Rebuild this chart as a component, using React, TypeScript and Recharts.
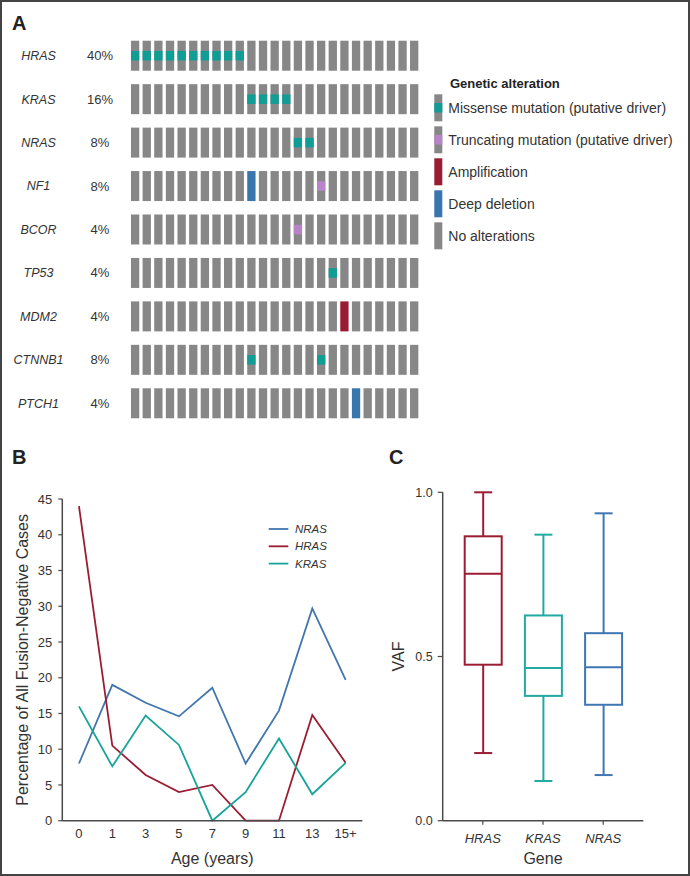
import React from 'react';
import { ScatterChart, Scatter, LineChart, Line, BarChart, Bar, XAxis, YAxis } from 'recharts';

const FONT = '"Liberation Sans", Arial, Helvetica, sans-serif';
const TEXT = '#333';
const AXIS = '#4a4a4a';

// ---- Panel A: oncoprint ----
const genes = ['HRAS', 'KRAS', 'NRAS', 'NF1', 'BCOR', 'TP53', 'MDM2', 'CTNNB1', 'PTCH1'];
const genePct = ['40%', '16%', '8%', '8%', '4%', '4%', '4%', '8%', '4%'];
const sampleCount = 25;
// altered sample columns per gene, by alteration type
const missenseHits: Record<string, number[]> = {
  HRAS: [0, 1, 2, 3, 4, 5, 6, 7, 8, 9],
  KRAS: [10, 11, 12, 13],
  NRAS: [14, 15],
  TP53: [17],
  CTNNB1: [10, 16],
};
const truncatingHits: Record<string, number[]> = { NF1: [16], BCOR: [14] };
const amplificationHits: Record<string, number[]> = { MDM2: [18] };
const deepDeletionHits: Record<string, number[]> = { NF1: [10], PTCH1: [19] };

// ---- Panel B: age distribution ----
const ages = ['0', '1', '3', '5', '7', '9', '11', '13', '15+'];
const nrasPct = [8, 19, 16.5, 14.6, 18.6, 8, 15.4, 29.7, 19.7];
const hrasPct = [44, 10.5, 6.4, 4, 5, 0, 0, 14.8, 8.1];
const krasPct = [16, 7.6, 14.7, 10.6, 0, 4, 11.5, 3.7, 8.1];
const pctTicks = [0, 5, 10, 15, 20, 25, 30, 35, 40, 45];

// ---- Panel C: VAF box plots ----
const vafGenes = ['HRAS', 'KRAS', 'NRAS'];
const vafMin = [0.206, 0.121, 0.139];
const vafQ1 = [0.475, 0.38, 0.353];
const vafMedian = [0.752, 0.465, 0.467];
const vafQ3 = [0.866, 0.625, 0.571];
const vafMax = [1.0, 0.871, 0.936];
const vafTicks = [0, 0.5, 1];

const GRAY = '#878787';
const TEAL = '#0f9d95';
const PURPLE = '#b784c8';
const RED = '#9a1c33';
const BLUE = '#3a76ae';

const lineColors = { NRAS: '#4176ad', HRAS: '#9b1d33', KRAS: '#17a399' };
const boxColors: Record<string, string> = { HRAS: '#9b1d33', KRAS: '#22aaa2', NRAS: '#3f77b2' };

const altFor = (gene: string, s: number) => {
  if ((amplificationHits[gene] || []).includes(s)) return 'amp';
  if ((deepDeletionHits[gene] || []).includes(s)) return 'del';
  if ((missenseHits[gene] || []).includes(s)) return 'missense';
  if ((truncatingHits[gene] || []).includes(s)) return 'trunc';
  return 'none';
};

const cells = genes.flatMap((gene, row) =>
  Array.from({ length: sampleCount }, (_, sample) => ({ sample, row, alt: altFor(gene, sample) }))
);

const CELL_W = 8.3;
const CELL_H = 30;
const BAND_H = 9.5;

const OncoCell = (props: any) => {
  const { cx, cy, payload } = props;
  const x = cx - CELL_W / 2;
  const y = cy - CELL_H / 2;
  const alt = payload.alt;
  const base = alt === 'amp' ? RED : alt === 'del' ? BLUE : GRAY;
  return (
    <g>
      <rect x={x} y={y} width={CELL_W} height={CELL_H} fill={base} />
      {(alt === 'missense' || alt === 'trunc') && (
        <rect x={x} y={cy - BAND_H / 2} width={CELL_W} height={BAND_H} fill={alt === 'missense' ? TEAL : PURPLE} />
      )}
    </g>
  );
};

const GeneTick = (props: any) => {
  const { y, payload } = props;
  const i = payload.value;
  return (
    <g>
      <text x={38.5} y={y} dy="0.35em" textAnchor="middle" fontSize={12.5} fontStyle="italic" fill={TEXT}>
        {genes[i]}
      </text>
      <text x={100} y={y} dy="0.35em" textAnchor="middle" fontSize={13} fill={TEXT}>
        {genePct[i]}
      </text>
    </g>
  );
};

const alterationLegend = [
  { label: 'Missense mutation (putative driver)', fill: GRAY, band: TEAL },
  { label: 'Truncating mutation (putative driver)', fill: GRAY, band: PURPLE },
  { label: 'Amplification', fill: RED, band: null },
  { label: 'Deep deletion', fill: BLUE, band: null },
  { label: 'No alterations', fill: GRAY, band: null },
];

const lineData = ages.map((age, i) => ({ age, NRAS: nrasPct[i], HRAS: hrasPct[i], KRAS: krasPct[i] }));

const boxData = vafGenes.map((gene, i) => ({
  gene,
  min: vafMin[i],
  q1: vafQ1[i],
  median: vafMedian[i],
  q3: vafQ3[i],
  max: vafMax[i],
}));

const BoxShape = (props: any) => {
  const { x, y, width, height, payload } = props;
  const top = Math.min(y, y + height);
  const h = Math.abs(height);
  const span = payload.max - payload.min;
  const py = (v: number) => top + ((payload.max - v) / span) * h;
  const cx = x + width / 2;
  const cap = 9;
  const color = boxColors[payload.gene];
  return (
    <g stroke={color} strokeWidth={2} fill="none">
      <line x1={cx} x2={cx} y1={py(payload.max)} y2={py(payload.q3)} />
      <line x1={cx} x2={cx} y1={py(payload.q1)} y2={py(payload.min)} />
      <line x1={cx - cap} x2={cx + cap} y1={py(payload.max)} y2={py(payload.max)} />
      <line x1={cx - cap} x2={cx + cap} y1={py(payload.min)} y2={py(payload.min)} />
      <rect x={x} y={py(payload.q3)} width={width} height={py(payload.q1) - py(payload.q3)} />
      <line x1={x} x2={x + width} y1={py(payload.median)} y2={py(payload.median)} />
    </g>
  );
};

const panelLetter = (letter: string, left: number, top: number) => (
  <div style={{ position: 'absolute', left, top, fontSize: 20, fontWeight: 'bold', color: '#222', lineHeight: '20px' }}>
    {letter}
  </div>
);

const App: React.FC = () => {
  return (
    <div
      style={{
        position: 'absolute',
        left: 0,
        top: 0,
        width: 690,
        height: 876,
        background: '#fff',
        fontFamily: FONT,
        color: TEXT,
        overflow: 'hidden',
      }}
    >
      {panelLetter('A', 12, 13)}
      {panelLetter('B', 12, 447)}
      {panelLetter('C', 389, 447)}

      {/* Panel A */}
      <div style={{ position: 'absolute', left: 0, top: 0 }}>
        <ScatterChart width={430} height={440} margin={{ top: 34, right: 10, bottom: 15, left: 9.3 }}>
          <XAxis type="number" dataKey="sample" domain={[-0.5, sampleCount - 0.5]} hide />
          <YAxis
            type="number"
            dataKey="row"
            domain={[-0.5, genes.length - 0.5]}
            reversed
            ticks={genes.map((_, i) => i)}
            interval={0}
            width={120}
            axisLine={false}
            tickLine={false}
            tick={<GeneTick />}
          />
          <Scatter data={cells} shape={<OncoCell />} isAnimationActive={false} />
        </ScatterChart>
      </div>
      <svg style={{ position: 'absolute', left: 420, top: 70 }} width={270} height={190}>
        <text x={30} y={13} dy="0.35em" fontSize={13} fontWeight="bold" fill="#222">
          Genetic alteration
        </text>
        {alterationLegend.map((item, i) => (
          <g key={item.label}>
            <rect x={14.3} y={24.3 + 32 * i} width={8} height={27} fill={item.fill} />
            {item.band && <rect x={14.3} y={24.3 + 32 * i + 8.7} width={8} height={9.5} fill={item.band} />}
            <text x={28.3} y={37.8 + 32 * i} dy="0.35em" fontSize={14} fill={TEXT}>
              {item.label}
            </text>
          </g>
        ))}
      </svg>

      {/* Panel B */}
      <div style={{ position: 'absolute', left: 0, top: 440 }}>
        <LineChart width={380} height={436} data={lineData} margin={{ top: 59, right: 17.7, bottom: 25.3, left: 0 }}>
          <XAxis
            dataKey="age"
            padding={{ left: 16.67, right: 16.67 }}
            height={30}
            tickLine={false}
            tickSize={0}
            tickMargin={8}
            axisLine={{ stroke: AXIS, strokeWidth: 1.5 }}
            tick={{ fill: TEXT, fontSize: 13 }}
            interval={0}
            label={{ value: 'Age (years)', position: 'bottom', offset: 2, fill: TEXT, fontSize: 16 }}
          />
          <YAxis
            domain={[0, 45]}
            ticks={pctTicks}
            width={62.3}
            tickSize={4}
            tickMargin={6}
            axisLine={{ stroke: AXIS, strokeWidth: 1.5 }}
            tickLine={{ stroke: AXIS, strokeWidth: 1.2 }}
            tick={{ fill: TEXT, fontSize: 13 }}
            interval={0}
            label={{
              value: 'Percentage of All Fusion-Negative Cases',
              angle: -90,
              position: 'insideLeft',
              offset: 22,
              fill: TEXT,
              fontSize: 16,
              style: { textAnchor: 'middle' },
            }}
          />
          <Line type="linear" dataKey="NRAS" stroke={lineColors.NRAS} strokeWidth={1.8} dot={false} isAnimationActive={false} />
          <Line type="linear" dataKey="HRAS" stroke={lineColors.HRAS} strokeWidth={1.8} dot={false} isAnimationActive={false} />
          <Line type="linear" dataKey="KRAS" stroke={lineColors.KRAS} strokeWidth={1.8} dot={false} isAnimationActive={false} />
        </LineChart>
      </div>
      <svg style={{ position: 'absolute', left: 260, top: 515 }} width={90} height={60}>
        {(['NRAS', 'HRAS', 'KRAS'] as const).map((g, i) => (
          <g key={g}>
            <line x1={8.7} x2={28.3} y1={14 + 17.3 * i} y2={14 + 17.3 * i} stroke={lineColors[g]} strokeWidth={1.8} />
            <text x={35} y={14 + 17.3 * i} dy="0.35em" fontSize={11.5} fontStyle="italic" fill={TEXT}>
              {g}
            </text>
          </g>
        ))}
      </svg>

      {/* Panel C */}
      <div style={{ position: 'absolute', left: 380, top: 440 }}>
        <BarChart width={310} height={436} data={boxData} margin={{ top: 52.3, right: 46.7, bottom: 25.3, left: 0 }}>
          <XAxis
            dataKey="gene"
            padding={{ left: 10, right: 10 }}
            height={30}
            tickSize={4}
            tickMargin={9}
            axisLine={{ stroke: AXIS, strokeWidth: 1.5 }}
            tickLine={{ stroke: AXIS, strokeWidth: 1.2 }}
            tick={{ fill: TEXT, fontSize: 13, fontStyle: 'italic' }}
            interval={0}
            label={{ value: 'Gene', position: 'bottom', offset: 2, fill: TEXT, fontSize: 16 }}
          />
          <YAxis
            domain={[0, 1]}
            ticks={vafTicks}
            tickFormatter={(v: number) => v.toFixed(1)}
            width={62.7}
            tickSize={5}
            tickMargin={5}
            axisLine={{ stroke: AXIS, strokeWidth: 1.5 }}
            tickLine={{ stroke: AXIS, strokeWidth: 1.2 }}
            tick={{ fill: TEXT, fontSize: 12.5 }}
            label={{
              value: 'VAF',
              angle: -90,
              position: 'insideLeft',
              offset: 18,
              fill: TEXT,
              fontSize: 16,
              style: { textAnchor: 'middle' },
            }}
          />
          <Bar
            dataKey={(d: any) => [d.min, d.max]}
            barSize={37}
            shape={<BoxShape />}
            isAnimationActive={false}
          />
        </BarChart>
      </div>

      <div
        style={{
          position: 'absolute',
          left: 0,
          top: 0,
          width: 690,
          height: 876,
          boxSizing: 'border-box',
          border: '2px solid #444',
          pointerEvents: 'none',
        }}
      />
    </div>
  );
};

export default App;
